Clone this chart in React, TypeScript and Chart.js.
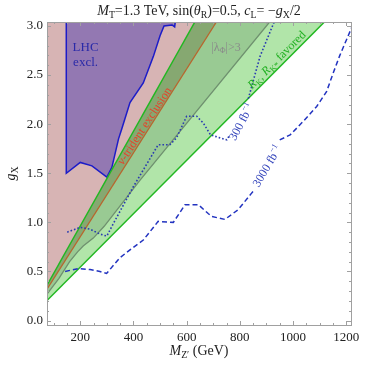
import React, { useEffect, useRef } from "react";
import { Chart, registerables } from "chart.js";
Chart.register(...registerables);

// axis ranges
const X_MIN = 75, X_MAX = 1218, Y_MIN = -0.045, Y_MAX = 3.04;
const xTicks = [200, 400, 600, 800, 1000, 1200];
const yTicks = [0, 0.5, 1, 1.5, 2, 2.5, 3];
const xMinor = [100, 150, 250, 300, 350, 450, 500, 550, 650, 700, 750, 850, 900, 950, 1050, 1100, 1150];
const yMinor = [0.1, 0.2, 0.3, 0.4, 0.6, 0.7, 0.8, 0.9, 1.1, 1.2, 1.3, 1.4, 1.6, 1.7, 1.8, 1.9, 2.1, 2.2, 2.3, 2.4, 2.6, 2.7, 2.8, 2.9];

// boundaries: M_Z' (GeV) vs g_X
const tridentX = [75, 712];
const tridentY = [0.32, 3.04];
const rkUpperX = [75, 631];
const rkUpperY = [0.36, 3.04];
const rkLowerX = [75, 1118];
const rkLowerY = [0.204, 3.04];
const lambdaX = [75, 120, 160, 190, 211, 249, 290, 425, 912];
const lambdaY = [0.27, 0.43, 0.6, 0.7, 0.76, 0.84, 0.96, 1.43, 3.04];
const lhcX = [147.5, 147.5, 200, 244, 300, 319, 344, 356, 387, 437, 475, 500, 515, 545, 555, 560];
const lhcY = [3.1, 1.5, 1.61, 1.575, 1.46, 1.56, 1.85, 1.95, 2.22, 2.42, 2.69, 2.9, 3.0, 3.01, 2.99, 3.1];
// HL-LHC reach contours (null = gap under the contour label)
const hl300X = [151, 200, 237, 275, 300, 319, 399, 493, 537, 562, 600, 638, 663, 690, 751, 760, 790, 832, 876, 932];
const hl300Y = [0.9, 0.95, 0.93, 0.88, 0.86, 0.96, 1.36, 1.79, 1.79, 1.86, 2.08, 2.08, 2.01, 1.89, 1.84, 1.88, null, 2.26, 2.69, 3.06];
const hl3000X = [143, 193, 237, 274, 299, 349, 387, 437, 493, 550, 594, 644, 681, 694, 744, 794, 845, 855, 900, 950, 989, 1039, 1089, 1126, 1151, 1176, 1220];
const hl3000Y = [0.5, 0.53, 0.52, 0.5, 0.48, 0.64, 0.72, 0.82, 1.01, 1.0, 1.18, 1.18, 1.09, 1.06, 1.03, 1.13, 1.3, 1.33, null, 1.84, 1.89, 2.03, 2.18, 2.33, 2.52, 2.7, 2.98];

const SERIF = '"Liberation Serif", "Times New Roman", "DejaVu Serif", serif';

type Seg = { t: string; i?: boolean; sub?: boolean; sup?: boolean };

const mk = (xs: number[], ys: (number | null)[]) => xs.map((x, i) => ({ x, y: ys[i] }));

function segFont(s: Seg, size: number) {
  const sz = s.sub || s.sup ? size * 0.7 : size;
  return `${s.i ? "italic " : ""}${sz}px ${SERIF}`;
}

function drawRich(ctx: CanvasRenderingContext2D, segs: Seg[], x: number, y: number, size: number, color: string, angle = 0) {
  ctx.save();
  ctx.translate(x, y);
  ctx.rotate((angle * Math.PI) / 180);
  let w = 0;
  for (const s of segs) {
    ctx.font = segFont(s, size);
    w += ctx.measureText(s.t).width;
  }
  let cx = -w / 2;
  ctx.fillStyle = color;
  ctx.textBaseline = "middle";
  ctx.textAlign = "left";
  for (const s of segs) {
    ctx.font = segFont(s, size);
    const dy = s.sub ? size * 0.3 : s.sup ? -size * 0.35 : 0;
    ctx.fillText(s.t, cx, dy);
    cx += ctx.measureText(s.t).width;
  }
  ctx.restore();
}

const plotLabels: { segs: Seg[]; x: number; y: number; size: number; color: string; angle: number }[] = [
  { segs: [{ t: "LHC" }], x: 220, y: 2.78, size: 13, color: "#2a2aa8", angle: 0 },
  { segs: [{ t: "excl." }], x: 220, y: 2.63, size: 13, color: "#2a2aa8", angle: 0 },
  { segs: [{ t: "ν", i: true }, { t: "-trident exclusion" }], x: 443, y: 1.98, size: 12, color: "#e8402a", angle: -57 },
  { segs: [{ t: "|λ" }, { t: "Φ", sub: true }, { t: "|>3" }], x: 748, y: 2.78, size: 12, color: "#8a8a8a", angle: 0 },
  {
    segs: [{ t: "R", i: true }, { t: "K", sub: true }, { t: ", " }, { t: "R", i: true }, { t: "K*", sub: true }, { t: " favored" }],
    x: 940, y: 2.65, size: 12, color: "#22b022", angle: -45,
  },
  { segs: [{ t: "300 fb" }, { t: "−1", sup: true }], x: 808, y: 2.02, size: 12, color: "#3344bb", angle: -62 },
  { segs: [{ t: "3000 fb" }, { t: "−1", sup: true }], x: 905, y: 1.57, size: 12, color: "#3344bb", angle: -59 },
];

const decorPlugin = {
  id: "decor",
  afterDraw(chart: any) {
    const ctx: CanvasRenderingContext2D = chart.ctx;
    const { left, right, top, bottom } = chart.chartArea;
    const xs = chart.scales.x, ys = chart.scales.y;
    ctx.save();
    ctx.beginPath();
    ctx.rect(left, top, right - left, bottom - top);
    ctx.clip();
    for (const l of plotLabels) {
      drawRich(ctx, l.segs, xs.getPixelForValue(l.x), ys.getPixelForValue(l.y), l.size, l.color, l.angle);
    }
    ctx.restore();
    // frame and inward ticks
    ctx.save();
    ctx.strokeStyle = "#a0a0a0";
    ctx.lineWidth = 1;
    ctx.strokeRect(Math.round(left) + 0.5, Math.round(top) + 0.5, Math.round(right - left), Math.round(bottom - top));
    const tick = (x1: number, y1: number, x2: number, y2: number) => {
      ctx.beginPath();
      ctx.moveTo(x1, y1);
      ctx.lineTo(x2, y2);
      ctx.stroke();
    };
    for (const v of xTicks.concat(xMinor)) {
      const len = xTicks.includes(v) ? 4 : 2;
      const px = Math.round(xs.getPixelForValue(v)) + 0.5;
      tick(px, bottom, px, bottom - len);
      tick(px, top, px, top + len);
    }
    for (const v of yTicks.concat(yMinor)) {
      const len = yTicks.includes(v) ? 4 : 2;
      const py = Math.round(ys.getPixelForValue(v)) + 0.5;
      tick(left, py, left + len, py);
      tick(right, py, right - len, py);
    }
    ctx.restore();
    // titles
    const cx = (left + right) / 2;
    drawRich(
      ctx,
      [
        { t: "M", i: true }, { t: "T", sub: true }, { t: "=1.3 TeV, sin(" }, { t: "θ", i: true }, { t: "R", sub: true },
        { t: ")=0.5, " }, { t: "c", i: true }, { t: "L", sub: true }, { t: "= −" }, { t: "g", i: true }, { t: "X", sub: true }, { t: "/2" },
      ],
      cx, 11, 14, "#222"
    );
    drawRich(ctx, [{ t: "M", i: true }, { t: "Z′", sub: true }, { t: " (GeV)" }], cx, 351, 14, "#222");
    drawRich(ctx, [{ t: "g", i: true }, { t: "X", sub: true }], 11, (top + bottom) / 2, 14, "#222", -90);
  },
};

const lineBase = { pointRadius: 0, showLine: true, tension: 0, fill: false, spanGaps: false };
const clear = "rgba(0,0,0,0)";

export default function App() {
  const ref = useRef<HTMLCanvasElement>(null);
  useEffect(() => {
    const upperBound = [...mk(rkUpperX, rkUpperY), { x: rkLowerX[rkLowerX.length - 1], y: Y_MAX }];
    const chart = new Chart(ref.current as HTMLCanvasElement, {
      type: "scatter",
      data: {
        datasets: [
          { ...lineBase, data: mk(tridentX, tridentY), fill: "end", backgroundColor: "rgba(140,40,40,0.35)", borderColor: clear, borderWidth: 1, order: 20 },
          { ...lineBase, data: upperBound, borderColor: clear, borderWidth: 1, order: 19 },
          { ...lineBase, data: mk(rkLowerX, rkLowerY), fill: 1, backgroundColor: "rgba(60,190,40,0.4)", borderColor: clear, borderWidth: 1, order: 18 },
          { ...lineBase, data: mk(lambdaX, lambdaY), fill: 1, backgroundColor: "rgba(80,120,80,0.25)", borderColor: clear, borderWidth: 1, order: 17 },
          { ...lineBase, data: mk(lhcX, lhcY), fill: "end", backgroundColor: "rgba(80,60,175,0.5)", borderColor: "#1c1cc8", borderWidth: 1.5, order: 16 },
          { ...lineBase, data: mk(tridentX, tridentY), borderColor: "#b8662e", borderWidth: 1.3, order: 10 },
          { ...lineBase, data: mk(lambdaX, lambdaY), borderColor: "#6f916f", borderWidth: 1.3, order: 10 },
          { ...lineBase, data: mk(rkUpperX, rkUpperY), borderColor: "#22b822", borderWidth: 1.5, order: 9 },
          { ...lineBase, data: mk(rkLowerX, rkLowerY), borderColor: "#22b822", borderWidth: 1.5, order: 9 },
          { ...lineBase, data: mk(hl300X, hl300Y), borderColor: "#2a3cb0", borderWidth: 1.6, borderDash: [1.6, 2], order: 2 },
          { ...lineBase, data: mk(hl3000X, hl3000Y), borderColor: "#2233c0", borderWidth: 1.5, borderDash: [5, 3], order: 1 },
        ] as any,
      },
      options: {
        animation: false,
        responsive: true,
        maintainAspectRatio: false,
        events: [],
        layout: { padding: { top: 22, right: 23, left: 0, bottom: 0 } },
        plugins: { legend: { display: false }, tooltip: { enabled: false }, title: { display: false } },
        scales: {
          x: {
            type: "linear",
            min: X_MIN,
            max: X_MAX,
            grid: { display: false, drawTicks: false },
            border: { display: false },
            afterBuildTicks: (s: any) => { s.ticks = xTicks.map((v) => ({ value: v })); },
            afterFit: (s: any) => { s.height = 44; },
            ticks: { autoSkip: false, maxRotation: 0, padding: 5, color: "#222", font: { family: SERIF, size: 13 }, callback: (v: any) => String(v) },
          },
          y: {
            type: "linear",
            min: Y_MIN,
            max: Y_MAX,
            grid: { display: false, drawTicks: false },
            border: { display: false },
            afterBuildTicks: (s: any) => { s.ticks = yTicks.map((v) => ({ value: v })); },
            afterFit: (s: any) => { s.width = 47; },
            ticks: { padding: 4, color: "#222", font: { family: SERIF, size: 13 }, callback: (v: any) => Number(v).toFixed(1) },
          },
        },
      },
      plugins: [decorPlugin],
    } as any);
    return () => chart.destroy();
  }, []);
  return (
    <div style={{ position: "absolute", left: 0, top: 0, width: 374, height: 369 }}>
      <canvas ref={ref} />
    </div>
  );
}
